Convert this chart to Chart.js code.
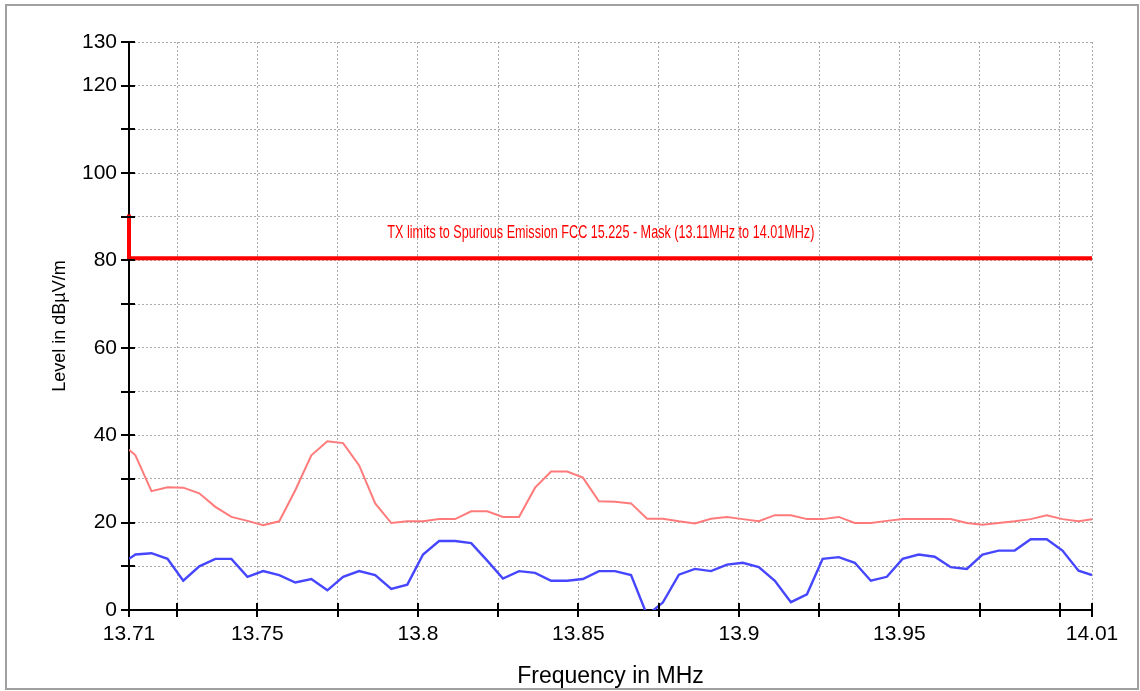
<!DOCTYPE html>
<html>
<head>
<meta charset="utf-8">
<script src="https://cdn.jsdelivr.net/npm/chart.js@4/dist/chart.umd.min.js"></script>
<style>
    body { margin: 0; background: #fff; }
    #wrap { width: 1140px; height: 691px; }
</style>
</head>
<body>
<div id="wrap"><canvas id="levelChart" width="1140" height="691"></canvas></div>
<script>
// 周波数 (MHz)
const freqs = [
    13.7100, 13.7120, 13.7170, 13.7220, 13.7269, 13.7319, 13.7369, 13.7419, 13.7469, 13.7518,
    13.7568, 13.7618, 13.7668, 13.7718, 13.7767, 13.7817, 13.7867, 13.7917, 13.7967, 13.8016,
    13.8066, 13.8116, 13.8166, 13.8216, 13.8265, 13.8315, 13.8365, 13.8415, 13.8465, 13.8514,
    13.8564, 13.8614, 13.8664, 13.8714, 13.8763, 13.8813, 13.8863, 13.8913, 13.8963, 13.9012,
    13.9062, 13.9112, 13.9162, 13.9212, 13.9261, 13.9311, 13.9361, 13.9411, 13.9461, 13.9510,
    13.9560, 13.9610, 13.9660, 13.9710, 13.9759, 13.9809, 13.9859, 13.9909, 13.9959, 14.0008,
    14.0058, 14.0100
];

// ピーク (赤)
const peakLevels = [
    36.7, 35.4, 27.2, 28.1, 28.0, 26.7, 23.6, 21.3, 20.4, 19.4,
    20.3, 27.4, 35.4, 38.6, 38.2, 33.1, 24.4, 19.9, 20.3, 20.3,
    20.8, 20.8, 22.6, 22.6, 21.3, 21.3, 28.0, 31.7, 31.7, 30.3,
    24.9, 24.8, 24.4, 20.9, 20.9, 20.3, 19.8, 20.9, 21.3, 20.8,
    20.3, 21.7, 21.7, 20.8, 20.8, 21.3, 19.9, 19.9, 20.4, 20.8,
    20.8, 20.8, 20.8, 19.9, 19.5, 19.9, 20.3, 20.8, 21.7, 20.8,
    20.3, 20.8
];

// 平均 (青)
const avgLevels = [
    11.7, 12.7, 13.0, 11.7, 6.7, 10.0, 11.7, 11.7, 7.6, 8.9,
    8.0, 6.3, 7.1, 4.5, 7.6, 8.9, 8.0, 4.8, 5.8, 12.7,
    15.8, 15.8, 15.3, 11.3, 7.2, 8.9, 8.5, 6.7, 6.7, 7.1,
    8.9, 8.9, 8.0, -1.2, 1.7, 8.1, 9.4, 8.9, 10.4, 10.8,
    9.8, 6.7, 1.8, 3.6, 11.7, 12.1, 10.8, 6.7, 7.6, 11.7,
    12.7, 12.2, 9.8, 9.4, 12.7, 13.6, 13.6, 16.2, 16.2, 13.6,
    9.0, 8.0
];

// リミット (マスク)
const maskFreqs = [13.71, 13.71, 14.01];
const maskLevels = [90.5, 80.5, 80.5];
const maskLabel = 'TX limits to Spurious Emission FCC 15.225 - Mask (13.11MHz to 14.01MHz)';
const maskLabelFreq = 13.857;
const maskLabelLevel = 86.3;

// 目盛り
const xTicks = [13.71, 13.725, 13.75, 13.775, 13.8, 13.825, 13.85, 13.875, 13.9, 13.925, 13.95, 13.975, 14.0, 14.01];
const xTickLabels = ['13.71', '', '13.75', '', '13.8', '', '13.85', '', '13.9', '', '13.95', '', '', '14.01'];
const yTicks = [0, 10, 20, 30, 40, 50, 60, 70, 80, 90, 100, 110, 120, 130];
const yTickLabels = ['0', '', '20', '', '40', '', '60', '', '80', '', '100', '', '120', '130'];

const toPoints = (xs, ys) => xs.map((x, i) => ({ x: x, y: ys[i] }));

// 背景と枠
const framePlugin = {
    id: 'frame',
    beforeDraw(chart) {
        const ctx = chart.ctx;
        ctx.save();
        ctx.fillStyle = '#fff';
        ctx.fillRect(0, 0, chart.width, chart.height);
        ctx.strokeStyle = '#a0a0a0';
        ctx.lineWidth = 2;
        ctx.strokeRect(6, 5, 1132, 684);
        ctx.restore();
    }
};

// 軸をまたぐ目盛り線
const tickMarks = {
    id: 'tickMarks',
    afterDraw(chart) {
        const { ctx, scales: { x, y } } = chart;
        ctx.save();
        ctx.strokeStyle = '#000';
        ctx.lineWidth = 2;
        ctx.beginPath();
        x.ticks.forEach(t => {
            const px = Math.round(x.getPixelForValue(t.value));
            ctx.moveTo(px, x.top - 7);
            ctx.lineTo(px, x.top + 7);
        });
        y.ticks.forEach(t => {
            const py = Math.round(y.getPixelForValue(t.value));
            ctx.moveTo(y.right - 8, py);
            ctx.lineTo(y.right + 6, py);
        });
        ctx.stroke();
        ctx.restore();
    }
};

// マスクのラベル
const maskText = {
    id: 'maskText',
    afterDatasetsDraw(chart) {
        const { ctx, scales: { x, y } } = chart;
        ctx.save();
        ctx.font = '18px "Liberation Sans", Arial, sans-serif';
        const w = ctx.measureText(maskLabel).width;
        ctx.translate(x.getPixelForValue(maskLabelFreq), y.getPixelForValue(maskLabelLevel));
        ctx.scale(427 / w, 1);
        ctx.fillStyle = '#ff0000';
        ctx.textAlign = 'center';
        ctx.textBaseline = 'middle';
        ctx.fillText(maskLabel, 0, 0);
        ctx.restore();
    }
};

const tickFont = { family: '"Liberation Sans", Arial, sans-serif', size: 21 };

const chart = new Chart(document.getElementById('levelChart').getContext('2d'), {
    type: 'line',
    data: {
        datasets: [
            {
                label: 'Mask',
                data: toPoints(maskFreqs, maskLevels),
                borderColor: '#ff0000',
                borderWidth: 4,
                pointRadius: 0,
                clip: false
            },
            {
                label: 'Peak',
                data: toPoints(freqs, peakLevels),
                borderColor: '#ff7b7b',
                borderWidth: 2,
                pointRadius: 0,
                clip: 0
            },
            {
                label: 'Average',
                data: toPoints(freqs, avgLevels),
                borderColor: '#4646ff',
                borderWidth: 2.4,
                pointRadius: 0,
                clip: 0
            }
        ]
    },
    options: {
        responsive: false,
        animation: false,
        devicePixelRatio: 1,
        layout: { padding: { left: 0, top: 42, right: 48, bottom: 0 } },
        plugins: {
            legend: { display: false },
            tooltip: { enabled: false }
        },
        scales: {
            x: {
                type: 'linear',
                min: 13.71,
                max: 14.01,
                afterBuildTicks: s => { s.ticks = xTicks.map(v => ({ value: v })); },
                afterFit: s => { s.height = 81; },
                ticks: {
                    autoSkip: false,
                    maxRotation: 0,
                    padding: 12,
                    color: '#000',
                    font: tickFont,
                    callback: (v, i) => xTickLabels[i]
                },
                grid: { color: '#aaaaaa', lineWidth: 1, drawTicks: false },
                border: { color: '#000', width: 2, dash: [2, 2] },
                title: {
                    display: true,
                    text: 'Frequency in MHz',
                    color: '#000',
                    font: { family: '"Liberation Sans", Arial, sans-serif', size: 23 },
                    padding: { top: 0, bottom: 1 }
                }
            },
            y: {
                min: 0,
                max: 130,
                afterBuildTicks: s => { s.ticks = yTicks.map(v => ({ value: v })); },
                afterFit: s => { s.width = 129; },
                ticks: {
                    autoSkip: false,
                    padding: 12,
                    color: '#000',
                    font: tickFont,
                    callback: (v, i) => yTickLabels[i]
                },
                grid: { color: '#aaaaaa', lineWidth: 1, drawTicks: false },
                border: { color: '#000', width: 2, dash: [2, 2] },
                title: {
                    display: true,
                    text: 'Level in dBµV/m',
                    color: '#000',
                    font: { family: '"Liberation Sans", Arial, sans-serif', size: 18 },
                    padding: { top: 49, bottom: 0 }
                }
            }
        }
    },
    plugins: [framePlugin, tickMarks, maskText]
});
</script>
</body>
</html>
